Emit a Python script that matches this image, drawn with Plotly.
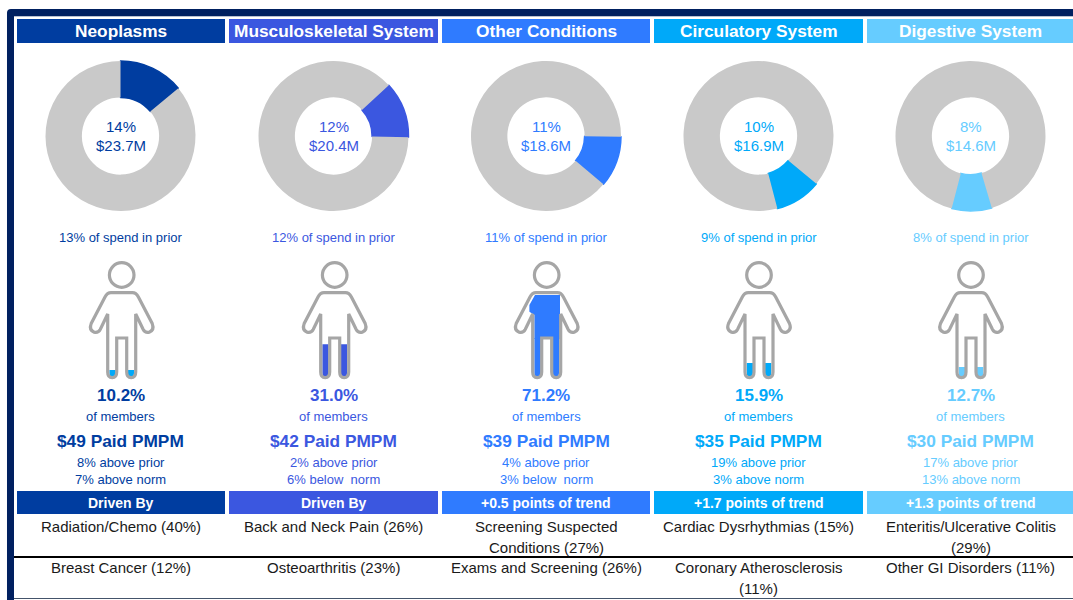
import plotly.graph_objects as go

W, H = 1073, 600

# ---- data ----
categories = ["Neoplasms", "Musculoskeletal System", "Other Conditions", "Circulatory System", "Digestive System"]
share_pct = [14, 12, 11, 10, 8]
spend_m = [23.7, 20.4, 18.6, 16.9, 14.6]
total_m = 169.3
slice_start_deg = [0, 47.5, 90.5, 129.5, 163.5]
prior_share = [13, 12, 11, 9, 8]
members_pct = [10.2, 31.0, 71.2, 15.9, 12.7]
pmpm = [49, 42, 39, 35, 30]
vs_prior = ["8% above prior", "2% above prior", "4% above prior", "19% above prior", "17% above prior"]
vs_norm = ["7% above norm", "6% below  norm", "3% below  norm", "3% above norm", "13% above norm"]
driver_head = ["Driven By", "Driven By", "+0.5 points of trend", "+1.7 points of trend", "+1.3 points of trend"]
driver_1 = ["Radiation/Chemo (40%)", "Back and Neck Pain (26%)", "Screening Suspected<br>Conditions (27%)",
            "Cardiac Dysrhythmias (15%)", "Enteritis/Ulcerative Colitis<br>(29%)"]
driver_2 = ["Breast Cancer (12%)", "Osteoarthritis (23%)", "Exams and Screening (26%)",
            "Coronary Atherosclerosis<br>(11%)", "Other GI Disorders (11%)"]

# ---- style ----
colors = ["#003DA0", "#3B57E0", "#2F7BFF", "#00A9F9", "#66CCFF"]
icon_fill = ["#00A9F9", "#3B57E0", "#2F7BFF", "#00A9F9", "#66CCFF"]
GREY = "#C9C9C9"
OUT = "#A6A6A6"
NAVY = "#002060"
FONT = "Liberation Sans"
col_l = [17, 229, 442, 654, 867]
col_r = [225, 438, 650, 863, 1073]
cx_list = [120.5, 333.5, 546, 758.5, 970.5]
icon_cx = [121.7, 334.7, 546.7, 759, 971]


def X(p):
    return p / W


def Y(p):
    return 1 - p / H


def rect(x0, y0, x1, y1, c):
    return dict(type="rect", xref="paper", yref="paper", x0=X(x0), x1=X(x1), y0=Y(y0), y1=Y(y1),
                fillcolor=c, line=dict(width=0), layer="above")


def poly(cmds, c_fill=None, c_line=None, lw=0):
    s = ""
    for cmd in cmds:
        s += cmd[0]
        s += " ".join(f"{X(cmd[i]):.5f},{Y(cmd[i + 1]):.5f}" for i in range(1, len(cmd), 2)) + " "
    if c_line is None:
        s += "Z"
    d = dict(type="path", xref="paper", yref="paper", path=s.strip(),
             line=dict(width=lw, color=c_line if c_line else "rgba(0,0,0,0)"), layer="above")
    if c_fill:
        d["fillcolor"] = c_fill
    return d


def outline(cx):
    """Person outline, left-to-right around the body."""
    r = lambda d: cx + d
    return [
        ("M", r(-10.7), 292.7), ("L", r(10.7), 292.7),
        ("Q", r(14.5), 292.7, r(16.7), 297), ("L", r(30.5), 323.5),
        ("Q", r(33), 330, r(27.5), 332.2), ("Q", r(23.5), 333.2, r(21.5), 329.5),
        ("L", r(14), 314), ("L", r(14), 372),
        ("Q", r(14), 377.7, r(9.5), 377.7), ("Q", r(5), 377.7, r(5), 372),
        ("L", r(5), 338), ("L", r(-5), 338), ("L", r(-5), 372),
        ("Q", r(-5), 377.7, r(-9.5), 377.7), ("Q", r(-14), 377.7, r(-14), 372),
        ("L", r(-14), 314), ("L", r(-21.5), 329.5),
        ("Q", r(-23.5), 333.2, r(-27.5), 332.2), ("Q", r(-33), 330, r(-30.5), 323.5),
        ("L", r(-16.7), 297), ("Q", r(-14.5), 292.7, r(-10.7), 292.7),
    ]


ICON_BOTTOM = 382.5
ICON_H = 123
CROTCH = 338
ARMPIT = 315


def icon_fills(cx, pct, c):
    level = ICON_BOTTOM - ICON_H * pct / 100
    r = lambda d: cx + d
    out = []
    leg_top = max(level, CROTCH)
    for a, b in ((-12.3, -6), (6, 12.3)):
        out.append(poly([("M", r(a), leg_top), ("L", r(b), leg_top), ("L", r(b), 373),
                         ("Q", r(b), 377, r((a + b) / 2), 377), ("Q", r(a), 377, r(a), 373)], c))
    if level < CROTCH:
        if level < ARMPIT:
            out.append(poly([("M", r(-11.7), level), ("L", r(13.3), level), ("L", r(13.3), CROTCH + 1),
                             ("L", r(-12.3), CROTCH + 1), ("L", r(-12.3), 315), ("L", r(-17.3), 311.7),
                             ("L", r(-17.3), 305)], c))
        else:
            out.append(poly([("M", r(-12.3), level), ("L", r(12.3), level), ("L", r(12.3), CROTCH + 1),
                             ("L", r(-12.3), CROTCH + 1)], c))
    return out


fig = go.Figure()
shapes = []
ann = []


def text(x, y, t, size, color, bold=False):
    ann.append(dict(xref="paper", yref="paper", x=X(x), y=Y(y), text=f"<b>{t}</b>" if bold else t,
                    showarrow=False, xanchor="center", yanchor="middle", align="center",
                    font=dict(family=FONT, size=size, color=color)))


# frame
shapes.append(poly([("M", 7, H), ("L", 7, 13), ("Q", 7, 9, 11, 9), ("L", W, 9), ("L", W, 16),
                    ("L", 14, 16), ("L", 14, H)], NAVY))
shapes.append(rect(14, 16, W, 17, "#B8C0D0"))
shapes.append(rect(14, 556, W, 558, "#000000"))
shapes.append(rect(14, 598, W, 599, "#44546A"))

for i, name in enumerate(categories):
    c, cx = colors[i], cx_list[i]
    # header bars
    shapes.append(rect(col_l[i], 19, col_r[i], 43, c))
    shapes.append(rect(col_l[i], 491, col_r[i], 514, c))
    text(cx, 31.5, name, 17.3, "#FFFFFF", True)
    text(cx, 502.5, driver_head[i], 14, "#FFFFFF", True)
    # donut
    fig.add_trace(go.Pie(
        values=[spend_m[i], total_m - spend_m[i]], sort=False, direction="clockwise",
        rotation=slice_start_deg[i], hole=0.515, textinfo="none", hoverinfo="skip", showlegend=False,
        marker=dict(colors=[c, GREY], line=dict(color=[c, GREY], width=[1.5, 0])),
        domain=dict(x=[X(cx - 75), X(cx + 75)], y=[Y(211), Y(61)]),
    ))
    text(cx, 126.5, f"{share_pct[i]}%", 15, c)
    text(cx, 145.5, f"${spend_m[i]:.1f}M", 15, c)
    text(cx, 237.5, f"{prior_share[i]}% of spend in prior", 13, c)
    # person icon
    ic = icon_cx[i]
    shapes.extend(icon_fills(ic, members_pct[i], icon_fill[i]))
    shapes.append(poly(outline(ic), None, OUT, 3.2))
    shapes.append(dict(type="circle", xref="paper", yref="paper", x0=X(ic - 12.3), x1=X(ic + 12.3),
                       y0=Y(275 + 12.3), y1=Y(275 - 12.3), line=dict(color=OUT, width=3.2), layer="above"))
    # metrics
    text(cx, 395, f"{members_pct[i]:.1f}%", 17, c, True)
    text(cx, 416.5, "of members", 13, c)
    text(cx, 441, f"${pmpm[i]} Paid PMPM", 17.3, c, True)
    text(cx, 462, vs_prior[i], 13, c)
    text(cx, 479.5, vs_norm[i], 13, c)
    # drivers
    for y, t in ((526.5, driver_1[i]), (567.5, driver_2[i])):
        parts = t.split("<br>")
        for k, p in enumerate(parts):
            text(cx, y + 20.5 * k, p, 15, "#1A1A1A")

fig.update_layout(width=W, height=H, margin=dict(l=0, r=0, t=0, b=0), paper_bgcolor="#FFFFFF",
                  plot_bgcolor="#FFFFFF", showlegend=False, shapes=shapes, annotations=ann,
                  font=dict(family=FONT))
fig.write_html("out.html", config=dict(displayModeBar=False, responsive=False),
               post_script="document.body.style.margin='0';")
